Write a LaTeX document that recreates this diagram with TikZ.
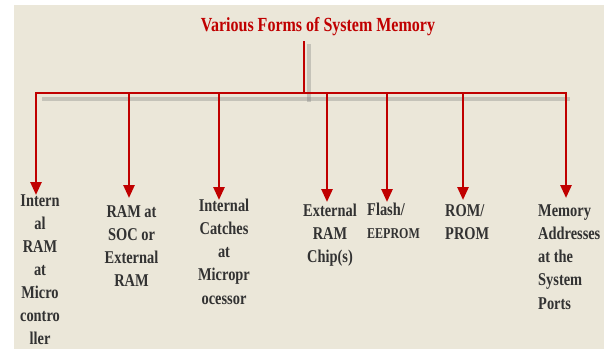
\documentclass[tikz,border=0pt]{standalone}
\usepackage{fontspec}
\setmainfont{Liberation Serif}[FakeStretch=0.8]
\usetikzlibrary{arrows.meta}
\definecolor{bg}{RGB}{235,231,217}
\definecolor{dred}{RGB}{192,0,0}
\definecolor{lbl}{RGB}{50,50,50}
\tikzset{
  wire/.style={draw=dred, line width=2.6pt},
  arr/.style={wire, -{Triangle[length=13pt,width=11pt]}},
  shade/.style={draw=black!50, line width=4pt, opacity=0.35},
  lab/.style={inner sep=0pt, text=lbl, font=\bfseries\fontsize{18}{23.3}\selectfont, anchor=base},
}
\begin{document}
\begin{tikzpicture}[x=1pt,y=-1pt]
\useasboundingbox (0,0) rectangle (609,349);
\fill[bg] (14,5) rectangle (604,349);
% title
\node[inner sep=0pt, anchor=base, text=dred, font=\bfseries\fontsize{20}{24}\selectfont] (title) at (318,31) {Various Forms of System Memory};
% bus coordinates
\coordinate (top) at (304,41);
\coordinate (j) at (304,93);
\coordinate (bL) at (36,93);
\coordinate (bR) at (566,93);
\foreach \n/\x in {1/36,2/129,3/219,4/327,5/387,6/463,7/566}{\coordinate (b\n) at (\x,93);}
\coordinate (t1) at (36,195);
\coordinate (t2) at (129,198);
\coordinate (t3) at (219,200);
\coordinate (t4) at (327,202);
\coordinate (t5) at (387,202);
\coordinate (t6) at (463,200);
\coordinate (t7) at (566,198);
% shadows
\draw[shade] ([shift={(5,3)}]top) -- ([shift={(5,9)}]j);
\draw[shade] ([shift={(6,6)}]bL) -- ([shift={(4,6)}]bR);
% wires
\draw[wire] (top) -- (j);
\draw[wire, line cap=rect] (bL) -- (bR);
\foreach \n in {1,...,7}{\draw[arr] (b\n) -- (t\n);}
% labels (anchor base = baseline of the last line)
\node[lab, align=center, font=\bfseries\fontsize{18}{23}\selectfont] (l1) at (40,344.5) {Intern\\al\\RAM\\at\\Micro\\contro\\ller};
\node[lab, align=center] (l2) at (131.5,286.9) {RAM at\\SOC or\\External\\RAM};
\node[lab, align=center] (l3) at (224,304.2) {Internal\\Catches\\at\\Micropr\\ocessor};
\node[lab, align=center] (l4) at (330,262.6) {External\\RAM\\Chip(s)};
\node[lab, align=left, anchor=base west] (l5) at (367,238) {Flash/\\[-1pt]{\fontsize{15}{18}\selectfont EEPROM}};
\node[lab, align=left, anchor=base west] (l6) at (445,239.3) {ROM/\\PROM};
\node[lab, align=left, anchor=base west] (l7) at (538,309.2) {Memory\\Addresses\\at the\\System\\Ports};
\end{tikzpicture}
\end{document}
